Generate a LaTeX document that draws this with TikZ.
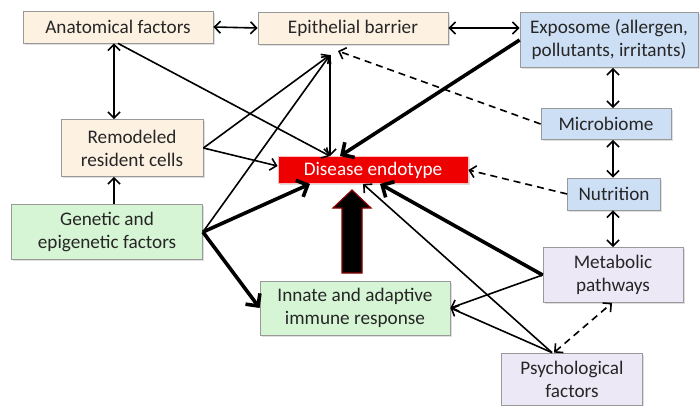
\documentclass[tikz,border=0pt]{standalone}
\usepackage{fontspec}
\setmainfont{Carlito}
\usetikzlibrary{arrows.meta,shadows,calc}

\definecolor{tanfill}{RGB}{253,241,226}
\definecolor{bluefill}{RGB}{205,223,245}
\definecolor{greenfill}{RGB}{214,245,212}
\definecolor{purplefill}{RGB}{236,232,246}
\definecolor{redfill}{RGB}{238,0,0}
\definecolor{darkred}{RGB}{140,0,0}

\begin{document}
\begin{tikzpicture}
[
	x=1pt,y=-1pt,
	basebox/.style={draw=black!40,line width=0.8pt,inner sep=0pt,align=center,
		text=black!85,font=\fontsize{19.2}{23}\selectfont,
		drop shadow={opacity=0.25,shadow xshift=1.5pt,shadow yshift=-1.5pt}},
	tanbox/.style={basebox,fill=tanfill},
	bluebox/.style={basebox,fill=bluefill},
	greenbox/.style={basebox,fill=greenfill},
	purplebox/.style={basebox,fill=purplefill},
	redbox/.style={basebox,fill=redfill,draw=red!25,text=white},
	oneway/.style={line width=1.6pt,-{Straight Barb[length=6pt,width=12pt]}},
	twoway/.style={line width=1.6pt,{Straight Barb[length=6pt,width=12pt]}-{Straight Barb[length=6pt,width=12pt]}},
	thickway/.style={line width=3.6pt,-{Straight Barb[length=9pt,width=18pt]}},
	dashway/.style={oneway,dash pattern=on 7pt off 5pt},
	bigarrow/.style={fill=black,draw=darkred,line width=1.2pt}
]

	\useasboundingbox (0,0) rectangle (700,405);

	% boxes
	\node[tanbox,minimum width=190pt,minimum height=32pt] (ana) at (118,27) {Anatomical factors};
	\node[tanbox,minimum width=190pt,minimum height=32pt] (epi) at (353,28) {Epithelial barrier};
	\node[bluebox,minimum width=178pt,minimum height=55pt] (exp) at (609,40) {Exposome (allergen,\\pollutants, irritants)};
	\node[bluebox,minimum width=130pt,minimum height=31pt] (mic) at (606,124) {Microbiome};
	\node[bluebox,minimum width=93pt,minimum height=32pt] (nut) at (614,194) {Nutrition};
	\node[purplebox,minimum width=140pt,minimum height=55pt] (met) at (613,275) {Metabolic\\pathways};
	\node[purplebox,minimum width=141pt,minimum height=52pt] (psy) at (572,379) {Psychological\\factors};
	\node[tanbox,minimum width=142pt,minimum height=57pt] (rem) at (132,148) {Remodeled\\resident cells};
	\node[greenbox,minimum width=191pt,minimum height=55pt] (gen) at (107,232) {Genetic and\\epigenetic factors};
	\node[greenbox,minimum width=190pt,minimum height=54pt] (inn) at (355,308) {Innate and adaptive\\immune response};
	\node[redbox,minimum width=190pt,minimum height=27pt] (dis) at (373,170) {Disease endotype};

	% meeting points
	\coordinate (epiin) at (330,55);
	\coordinate (epiin2) at (338,51);
	\coordinate (lcol) at (114,0);
	\coordinate (rcol) at (613,0);

	% double links
	\draw[twoway] (ana.east) -- (epi.west);
	\draw[twoway] (epi.east) -- (exp.west |- epi.east);
	\draw[twoway] (lcol |- ana.south) -- (lcol |- rem.north);
	\draw[oneway] (lcol |- gen.north) -- (lcol |- rem.south);
	\draw[twoway] (rcol |- exp.south) -- (rcol |- mic.north);
	\draw[twoway] (rcol |- mic.south) -- (rcol |- nut.north);
	\draw[twoway] (rcol |- nut.south) -- (rcol |- met.north);

	% into the epithelial barrier
	\draw[oneway] (rem.east) -- (epiin);
	\draw[oneway] (gen.east) -- (epiin);
	\draw[dashway] (mic.west) -- (epiin2);

	% into the disease endotype
	\draw[oneway] (ana.south) -- (epiin |- dis.north);
	\draw[oneway] (epiin) -- (epiin |- dis.north);
	\draw[thickway] (exp.west) -- ([xshift=10pt]epiin |- dis.north);
	\draw[oneway] (rem.east) -- ([yshift=4pt]dis.west);
	\draw[thickway] (gen.east) -- ([xshift=-63pt]dis.south);
	\draw[dashway] (nut.west) -- (dis.east);
	\draw[thickway] (met.west) -- ([xshift=7pt]dis.south);
	\draw[oneway] ([xshift=-20pt]psy.north) -- ([xshift=-10pt]dis.south);

	% into the immune response
	\draw[thickway] (gen.east) -- (inn.west);
	\draw[oneway] (met.west) -- (inn.east);
	\draw[oneway] ([xshift=-20pt]psy.north) -- (inn.east);
	\draw[twoway,dash pattern=on 7pt off 5pt] ([xshift=-18pt]psy.north) -- ([xshift=-1pt]met.south);

	% big arrow
	\draw[bigarrow] (342,273) -- (342,208) -- (333,208) -- (352,190) -- (371,208) -- (362,208) -- (362,273) -- cycle;

\end{tikzpicture}
\end{document}
